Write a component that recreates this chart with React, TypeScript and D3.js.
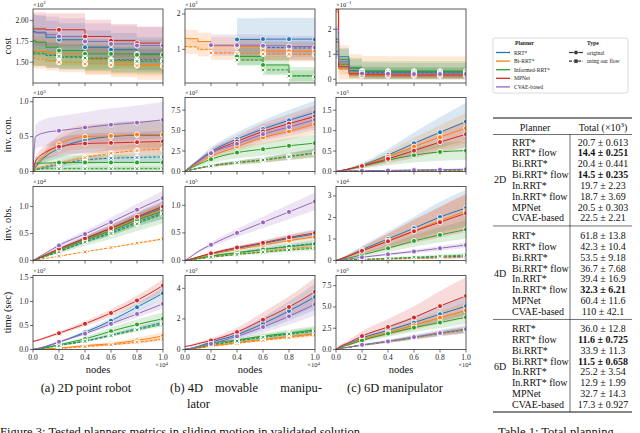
import React from "react";
import * as d3 from "d3";

// node counts (x 10^4) where every series is sampled
const NODES = [0, 0.02, 0.1, 0.2, 0.4, 0.6, 0.8, 1.0];
const MARK_NODES = [0.2, 0.4, 0.6, 0.8, 1.0];
const X_TICKS = [0, 0.2, 0.4, 0.6, 0.8, 1.0];

const PLANNERS = ["RRT*", "Bi-RRT*", "Informed-RRT*", "MPNet", "CVAE-based"];
const COLORS = ["#1f77b4", "#ff7f0e", "#2ca02c", "#d62728", "#9467bd"];
const METRICS = ["cost", "inv. con.", "inv. obs.", "time (sec)"];

const SERIES = [
  { key: "rrt", planner: 0, flow: false },
  { key: "rrtFlow", planner: 0, flow: true },
  { key: "bi", planner: 1, flow: false },
  { key: "biFlow", planner: 1, flow: true },
  { key: "inf", planner: 2, flow: false },
  { key: "infFlow", planner: 2, flow: true },
  { key: "mpnet", planner: 3, flow: false },
  { key: "cvae", planner: 4, flow: false },
];

const N = null;

// ---- cost
const COST_2D = {
  rrt: [1.87, 1.86, 1.8, 1.77, 1.68, 1.65, 1.6, 1.59],
  rrtFlow: [1.6, 1.6, 1.58, 1.56, 1.54, 1.53, 1.53, 1.52],
  bi: [1.64, 1.63, 1.61, 1.6, 1.53, 1.5, 1.47, 1.46],
  biFlow: [1.55, 1.54, 1.52, 1.5, 1.48, 1.47, 1.46, 1.45],
  inf: [1.76, 1.74, 1.68, 1.64, 1.6, 1.6, 1.59, 1.59],
  infFlow: [1.62, 1.61, 1.59, 1.57, 1.55, 1.52, 1.51, 1.51],
  mpnet: [1.9, 1.9, 1.89, 1.89, 1.81, 1.76, 1.73, 1.72],
  cvae: [1.86, 1.85, 1.83, 1.81, 1.75, 1.72, 1.7, 1.7],
};
const COST_2D_BAND = [0.2, 0.15, 0.18, 0.12, 0.18, 0.15, 0.2, 0.22];

const COST_4D = {
  rrt: [N, N, N, N, 1.28, 1.29, 1.29, 1.28],
  rrtFlow: [N, N, N, N, 1.08, 1.05, 1.04, 1.03],
  bi: [1.31, 1.3, 1.22, 1.1, 1.08, 0.95, 0.95, 0.93],
  biFlow: [1.08, 1.07, 1.0, 0.9, 0.88, 0.87, 0.86, 0.85],
  inf: [N, N, N, N, 0.8, 0.56, 0.25, 0.22],
  infFlow: [N, N, N, N, 0.7, 0.42, 0.25, 0.22],
  mpnet: [N, N, N, N, N, N, N, N],
  cvae: [N, N, N, 1.12, 1.12, 1.1, 1.08, 1.05],
};
const COST_4D_BAND = [0.6, 0.2, 0.25, 0.2, 0.25, 0.15, 0, 0.3];

const COST_6D = {
  rrt: [1.6, 0.9, 0.45, 0.32, 0.3, 0.3, 0.3, 0.3],
  rrtFlow: [1.0, 0.6, 0.35, 0.27, 0.26, 0.26, 0.25, 0.25],
  bi: [2.7, 0.6, 0.25, 0.18, 0.17, 0.16, 0.16, 0.16],
  biFlow: [1.5, 0.4, 0.2, 0.15, 0.14, 0.14, 0.14, 0.14],
  inf: [1.5, 0.8, 0.45, 0.33, 0.33, 0.33, 0.33, 0.33],
  infFlow: [1.1, 0.6, 0.35, 0.3, 0.29, 0.29, 0.29, 0.29],
  mpnet: [2.8, 0.5, 0.22, 0.18, 0.17, 0.17, 0.17, 0.17],
  cvae: [2.0, 0.7, 0.3, 0.23, 0.22, 0.21, 0.21, 0.21],
};
const COST_6D_BAND = [0.35, 0.2, 0.75, 0.2, 0.4, 0.2, 0.1, 0.15];

// ---- inverse connectivity
const CON_2D = {
  rrt: [0, 0.06, 0.22, 0.33, 0.45, 0.5, 0.52, 0.52],
  rrtFlow: [0, 0.02, 0.06, 0.1, 0.165, 0.19, 0.2, 0.21],
  bi: [0, 0.08, 0.25, 0.39, 0.5, 0.51, 0.53, 0.53],
  biFlow: [0, 0.03, 0.08, 0.12, 0.2, 0.26, 0.3, 0.32],
  inf: [0, 0.12, 0.12, 0.13, 0.13, 0.13, 0.13, 0.13],
  infFlow: [0, 0.03, 0.04, 0.04, 0.04, 0.04, 0.04, 0.04],
  mpnet: [0, 0.15, 0.28, 0.355, 0.4, 0.41, 0.42, 0.43],
  cvae: [0, 0.5, 0.56, 0.585, 0.63, 0.67, 0.7, 0.74],
};
const CON_2D_BAND = [0.4, 0.35, 0.35, 0.3, 0.8, 0.8, 0.35, 0.35];

const CON_4D = {
  rrt: [0, 0.3, 1.3, 2.44, 3.96, 5.19, 6.25, 7.23],
  rrtFlow: [0, 0.1, 0.4, 0.7, 1.1, 1.42, 1.85, 2.28],
  bi: [0, 0.2, 1.0, 1.82, 3.05, 4.16, 4.9, 5.8],
  biFlow: [0, 0.1, 0.38, 0.66, 1.06, 1.38, 1.8, 2.22],
  inf: [0, 0.2, 0.85, 1.5, 2.31, 2.73, 3.14, 3.47],
  infFlow: [0, 0.1, 0.38, 0.68, 1.08, 1.4, 1.82, 2.24],
  mpnet: [0, 0.3, 1.2, 2.3, 3.67, 4.9, 5.84, 6.74],
  cvae: [0, 0.3, 1.2, 2.24, 3.38, 4.57, 5.43, 6.33],
};
const CON_4D_BAND = [0.2, 0.2, 0.2, 0.2, 0.3, 0.25, 0.2, 0.2];

const CON_6D = {
  rrt: [0, 0.01, 0.06, 0.15, 0.4, 0.69, 0.96, 1.22],
  rrtFlow: [0, 0, 0.005, 0.01, 0.015, 0.02, 0.025, 0.03],
  bi: [0, 0.01, 0.06, 0.14, 0.36, 0.61, 0.84, 1.06],
  biFlow: [0, 0, 0.005, 0.01, 0.015, 0.02, 0.025, 0.03],
  inf: [0, 0.01, 0.06, 0.13, 0.28, 0.4, 0.48, 0.51],
  infFlow: [0, 0, 0.005, 0.01, 0.02, 0.03, 0.035, 0.04],
  mpnet: [0, 0.01, 0.06, 0.135, 0.31, 0.51, 0.72, 0.91],
  cvae: [0, 0.01, 0.015, 0.02, 0.025, 0.035, 0.045, 0.055],
};
const CON_6D_BAND = [0.38, 0.5, 0.35, 0.5, 0.45, 0.5, 0.35, 0.5];

// ---- inverse obstacle
const OBS_2D = {
  rrt: [0, 0.02, 0.1, 0.21, 0.4, 0.59, 0.79, 0.97],
  rrtFlow: [0, 0.015, 0.08, 0.17, 0.35, 0.52, 0.71, 0.88],
  bi: [0, 0.02, 0.1, 0.2, 0.38, 0.57, 0.77, 0.95],
  biFlow: [0, 0.008, 0.04, 0.08, 0.16, 0.24, 0.32, 0.4],
  inf: [0, 0.02, 0.09, 0.19, 0.38, 0.55, 0.75, 0.91],
  infFlow: [0, 0.015, 0.08, 0.16, 0.34, 0.5, 0.68, 0.86],
  mpnet: [0, 0.02, 0.11, 0.22, 0.41, 0.6, 0.81, 1.0],
  cvae: [0, 0.03, 0.14, 0.28, 0.49, 0.71, 0.94, 1.155],
};
const OBS_2D_BAND = [0.12, 0.12, 0.12, 0.05, 0.15, 0.2, 0.1, 0.12];

const OBS_4D = {
  rrt: [0, 0.01, 0.06, 0.12, 0.22, 0.31, 0.4, 0.48],
  rrtFlow: [0, 0.01, 0.04, 0.08, 0.14, 0.2, 0.26, 0.31],
  bi: [0, 0.01, 0.055, 0.11, 0.2, 0.28, 0.36, 0.43],
  biFlow: [0, 0.005, 0.03, 0.06, 0.11, 0.16, 0.21, 0.25],
  inf: [0, 0.005, 0.04, 0.08, 0.14, 0.2, 0.25, 0.3],
  infFlow: [0, 0.005, 0.03, 0.06, 0.11, 0.15, 0.19, 0.22],
  mpnet: [0, 0.01, 0.065, 0.13, 0.235, 0.32, 0.42, 0.5],
  cvae: [0, 0.03, 0.16, 0.285, 0.5, 0.69, 0.88, 1.07],
};
const OBS_4D_BAND = [0.15, 0.15, 0.15, 0.15, 0.25, 0.2, 0.12, 0.15];

const OBS_6D = {
  rrt: [0, 0.04, 0.23, 0.5, 1.0, 1.5, 2.02, 2.44],
  rrtFlow: [0, 0.005, 0.02, 0.04, 0.08, 0.12, 0.16, 0.2],
  bi: [0, 0.04, 0.21, 0.45, 0.92, 1.38, 1.85, 2.3],
  biFlow: [0, 0.003, 0.015, 0.03, 0.06, 0.09, 0.12, 0.15],
  inf: [0, 0.03, 0.12, 0.26, 0.57, 0.91, 1.19, 1.44],
  infFlow: [0, 0.005, 0.025, 0.05, 0.1, 0.15, 0.2, 0.25],
  mpnet: [0, 0.04, 0.21, 0.45, 0.89, 1.36, 1.78, 2.2],
  cvae: [0, 0.01, 0.07, 0.15, 0.29, 0.42, 0.57, 0.72],
};
const OBS_6D_BAND = [0.35, 0.4, 0.35, 0.4, 0.3, 0.4, 0.4, 0.2];

// ---- time
const TIME_2D = {
  rrt: [0, 0.01, 0.06, 0.15, 0.36, 0.6, 0.88, 1.17],
  rrtFlow: [0, 0.005, 0.04, 0.09, 0.18, 0.3, 0.43, 0.56],
  bi: [0, 0.002, 0.012, 0.03, 0.08, 0.12, 0.19, 0.28],
  biFlow: [0, 0.002, 0.01, 0.02, 0.06, 0.1, 0.15, 0.22],
  inf: [0, 0.005, 0.04, 0.1, 0.22, 0.38, 0.52, 0.64],
  infFlow: [0, 0.005, 0.035, 0.08, 0.17, 0.29, 0.41, 0.53],
  mpnet: [0.17, 0.18, 0.25, 0.34, 0.535, 0.76, 1.02, 1.33],
  cvae: [0, 0.01, 0.07, 0.16, 0.33, 0.535, 0.74, 0.95],
};
const TIME_2D_BAND = [0.1, 0.1, 0.3, 0.2, 0.2, 0.1, 0.1, 0.1];

const TIME_4D = {
  rrt: [0, 0.03, 0.2, 0.48, 0.97, 1.69, 2.52, 3.44],
  rrtFlow: [0, 0.02, 0.13, 0.3, 0.56, 0.8, 1.0, 1.22],
  bi: [0, 0.02, 0.1, 0.23, 0.45, 0.66, 0.84, 1.03],
  biFlow: [0, 0.02, 0.09, 0.2, 0.4, 0.6, 0.78, 0.95],
  inf: [0, 0.03, 0.18, 0.4, 0.62, 0.88, 1.07, 1.29],
  infFlow: [0, 0.02, 0.13, 0.3, 0.55, 0.8, 1.02, 1.2],
  mpnet: [0.2, 0.22, 0.38, 0.59, 1.14, 1.95, 2.78, 3.77],
  cvae: [0, 0.03, 0.16, 0.37, 0.86, 1.47, 2.17, 2.96],
};
const TIME_4D_BAND = [0.25, 0.15, 0.1, 0.1, 0.2, 0.2, 0.25, 0.25];

const TIME_6D = {
  rrt: [0, 0.2, 0.7, 1.35, 2.25, 3.17, 4.15, 5.1],
  rrtFlow: [0, 0.08, 0.28, 0.5, 0.95, 1.4, 1.9, 2.3],
  bi: [0, 0.18, 0.62, 1.2, 2.0, 2.85, 3.75, 4.6],
  biFlow: [0, 0.08, 0.27, 0.48, 0.92, 1.38, 1.85, 2.25],
  inf: [0, 0.16, 0.56, 1.07, 1.87, 2.57, 3.17, 3.8],
  infFlow: [0, 0.08, 0.28, 0.5, 0.96, 1.42, 1.92, 2.35],
  mpnet: [0, 0.25, 0.82, 1.58, 2.65, 3.76, 5.1, 6.3],
  cvae: [0, 0.08, 0.28, 0.55, 0.95, 1.46, 1.94, 2.4],
};
const TIME_6D_BAND = [0.22, 0.15, 0.2, 0.15, 0.2, 0.15, 0.35, 0.2];

const PANELS = [
  { row: 0, col: 0, data: COST_2D, band: COST_2D_BAND, abs: true, domain: [1.25, 2.14], ticks: [1.5, 1.75, 2.0], fmt: ".2f", exp: "2" },
  { row: 0, col: 1, data: COST_4D, band: COST_4D_BAND, abs: true, domain: [0.05, 2.14], ticks: [1, 2], fmt: "d", exp: "2" },
  { row: 0, col: 2, data: COST_6D, band: COST_6D_BAND, abs: true, domain: [-0.15, 2.81], ticks: [0, 1, 2], fmt: "d", exp: "−1" },
  { row: 1, col: 0, data: CON_2D, band: CON_2D_BAND, abs: false, domain: [0, 1.06], ticks: [0, 0.5, 1.0], fmt: ".1f", exp: "3" },
  { row: 1, col: 1, data: CON_4D, band: CON_4D_BAND, abs: false, domain: [0, 9.04], ticks: [0, 2.5, 5, 7.5], fmt: ".1f", exp: "2" },
  { row: 1, col: 2, data: CON_6D, band: CON_6D_BAND, abs: false, domain: [0, 1.81], ticks: [0, 0.5, 1.0, 1.5], fmt: ".1f", exp: "3" },
  { row: 2, col: 0, data: OBS_2D, band: OBS_2D_BAND, abs: false, domain: [0, 1.37], ticks: [0, 0.5, 1.0], fmt: ".1f", exp: "4" },
  { row: 2, col: 1, data: OBS_4D, band: OBS_4D_BAND, abs: false, domain: [0, 1.34], ticks: [0, 0.5, 1.0], fmt: ".1f", exp: "5" },
  { row: 2, col: 2, data: OBS_6D, band: OBS_6D_BAND, abs: false, domain: [0, 3.44], ticks: [0, 1, 2, 3], fmt: "d", exp: "4" },
  { row: 3, col: 0, data: TIME_2D, band: TIME_2D_BAND, abs: false, domain: [0, 1.54], ticks: [0, 0.5, 1.0, 1.5], fmt: ".1f", exp: "2" },
  { row: 3, col: 1, data: TIME_4D, band: TIME_4D_BAND, abs: false, domain: [0, 4.84], ticks: [0, 2, 4], fmt: "d", exp: "2" },
  { row: 3, col: 2, data: TIME_6D, band: TIME_6D_BAND, abs: false, domain: [0, 8.7], ticks: [0, 2.5, 5, 7.5], fmt: ".1f", exp: "2" },
];

// table
const DIMS = ["2D", "4D", "6D"];
const TABLE_PLANNERS = ["RRT*", "RRT* flow", "Bi.RRT*", "Bi.RRT* flow", "In.RRT*", "In.RRT* flow", "MPNet", "CVAE-based"];
const TOTAL_MEAN = [
  ["20.7", "14.4", "20.4", "14.5", "19.7", "18.7", "20.5", "22.5"],
  ["61.8", "42.3", "53.5", "36.7", "39.4", "32.3", "60.4", "110"],
  ["36.0", "11.6", "33.9", "11.5", "25.2", "12.9", "32.7", "17.3"],
];
const TOTAL_STD = [
  ["0.613", "0.251", "0.441", "0.235", "2.23", "3.69", "0.303", "2.21"],
  ["13.8", "10.4", "9.18", "7.68", "16.9", "6.21", "11.6", "42.1"],
  ["12.8", "0.725", "11.3", "0.658", "3.54", "1.99", "14.3", "0.927"],
];
const TOTAL_BOLD = [
  [false, true, false, true, false, false, false, false],
  [false, false, false, false, false, true, false, false],
  [false, true, false, true, false, false, false, false],
];

const CAPTION_A = "(a) 2D point robot";
const CAPTION_B = ["(b) 4D", "movable", "manipu-", "lator"];
const CAPTION_C = "(c) 6D manipulator";

const COL_X = [33, 185, 336];
const ROW_Y = [9, 97.5, 186.5, 275.5];
const PW = 130;
const PH = 74;
const SERIF = "'Liberation Serif', 'DejaVu Serif', serif";

const Panel = ({ p, idx }) => {
  const x0 = COL_X[p.col];
  const y0 = ROW_Y[p.row];
  const x = d3.scaleLinear().domain([0, 1]).range([x0, x0 + PW]);
  const y = d3.scaleLinear().domain(p.domain).range([y0 + PH, y0]);
  const isCost = p.row === 0;
  const curve = isCost ? d3.curveStepAfter : d3.curveMonotoneX;
  const fmt = d3.format(p.fmt);
  const clipId = `clip${idx}`;

  const pts = (vals) => NODES.map((n, i) => ({ n, v: vals[i] }));
  const line = d3
    .line<any>()
    .defined((d) => d.v != null)
    .x((d) => x(d.n))
    .y((d) => y(d.v))
    .curve(curve);

  return (
    <g>
      <defs>
        <clipPath id={clipId}>
          <rect x={x0} y={y0} width={PW} height={PH} />
        </clipPath>
      </defs>
      <g clipPath={`url(#${clipId})`}>
        {SERIES.map((s, si) => {
          const hw = p.band[si];
          const area = d3
            .area<any>()
            .defined((d) => d.v != null)
            .x((d) => x(d.n))
            .y0((d) => y(Math.max(0, d.v - (p.abs ? hw : d.v * hw))))
            .y1((d) => y(d.v + (p.abs ? hw : d.v * hw)))
            .curve(curve);
          return (
            <path key={"b" + s.key} d={area(pts(p.data[s.key])) || ""} fill={COLORS[s.planner]} fillOpacity={0.17} />
          );
        })}
        {SERIES.map((s) => (
          <path
            key={"l" + s.key}
            d={line(pts(p.data[s.key])) || ""}
            fill="none"
            stroke={COLORS[s.planner]}
            strokeWidth={1}
            strokeDasharray={s.flow ? "3,1.5" : undefined}
          />
        ))}
        {SERIES.map((s) =>
          MARK_NODES.map((n) => {
            const v = p.data[s.key][NODES.indexOf(n)];
            if (v == null) return null;
            const cx = x(n);
            const cy = y(v);
            const c = COLORS[s.planner];
            return s.flow ? (
              <g key={s.key + n}>
                <circle cx={cx} cy={cy} r={2.7} fill="#fff" stroke="#fff" strokeWidth={0.6} />
                <path
                  d={`M${cx - 1.4},${cy - 1.4}L${cx + 1.4},${cy + 1.4}M${cx - 1.4},${cy + 1.4}L${cx + 1.4},${cy - 1.4}`}
                  stroke={c}
                  strokeWidth={1}
                />
              </g>
            ) : (
              <circle key={s.key + n} cx={cx} cy={cy} r={2.5} fill={c} stroke="#fff" strokeWidth={0.9} />
            );
          })
        )}
      </g>
      <rect x={x0} y={y0} width={PW} height={PH} fill="none" stroke="#333" strokeWidth={0.8} />
      {p.ticks.map((t) => (
        <g key={"yt" + t}>
          <line x1={x0 - 3} x2={x0} y1={y(t)} y2={y(t)} stroke="#333" strokeWidth={0.7} />
          <text x={x0 - 4.5} y={y(t) + 2.5} fontSize={7.5} textAnchor="end" fill="#222" fontFamily={SERIF}>
            {fmt(t)}
          </text>
        </g>
      ))}
      {X_TICKS.map((t) => (
        <g key={"xt" + t}>
          <line x1={x(t)} x2={x(t)} y1={y0 + PH} y2={y0 + PH + 3} stroke="#333" strokeWidth={0.7} />
          {p.row === 3 && (
            <text x={x(t)} y={y0 + PH + 10.5} fontSize={7.5} textAnchor="middle" fill="#222" fontFamily={SERIF}>
              {d3.format(".1f")(t)}
            </text>
          )}
        </g>
      ))}
      <text x={x0} y={y0 - 2.5} fontSize={6.5} fill="#222" fontFamily={SERIF}>
        ×10
        <tspan dy={-2.5} fontSize={5}>
          {p.exp}
        </tspan>
      </text>
      {p.row === 3 && (
        <>
          <text x={x0 + PW + 5} y={y0 + PH + 17.5} fontSize={6.5} textAnchor="end" fill="#222" fontFamily={SERIF}>
            ×10
            <tspan dy={-2.5} fontSize={5}>
              4
            </tspan>
          </text>
          <text x={x0 + PW / 2} y={y0 + PH + 23} fontSize={10.5} textAnchor="middle" fill="#111" fontFamily={SERIF}>
            nodes
          </text>
        </>
      )}
      {p.col === 0 && (
        <text
          transform={`translate(${10.5},${y0 + PH / 2}) rotate(-90)`}
          fontSize={10.5}
          textAnchor="middle"
          fill="#111"
          fontFamily={SERIF}
        >
          {METRICS[p.row]}
        </text>
      )}
    </g>
  );
};

const Legend = () => {
  const lx = 493;
  const ly = 38;
  return (
    <g fontFamily={SERIF} fontSize={5.6} fill="#222">
      <rect x={lx} y={ly} width={135} height={55} rx={2} fill="#fff" stroke="#ccc" strokeWidth={0.7} />
      <text x={lx + 22} y={ly + 7} fontWeight="bold">Planner</text>
      {PLANNERS.map((name, i) => {
        const yy = ly + 14.5 + i * 8.6;
        return (
          <g key={name}>
            <line x1={lx + 3} x2={lx + 17} y1={yy} y2={yy} stroke={COLORS[i]} strokeWidth={1.3} />
            <text x={lx + 21} y={yy + 2}>{name}</text>
          </g>
        );
      })}
      <text x={lx + 94} y={ly + 7} fontWeight="bold">Type</text>
      <line x1={lx + 76} x2={lx + 90} y1={ly + 14.5} y2={ly + 14.5} stroke="#333" strokeWidth={1.2} />
      <circle cx={lx + 83} cy={ly + 14.5} r={2.2} fill="#333" stroke="#fff" strokeWidth={0.6} />
      <text x={lx + 94} y={ly + 16.5}>original</text>
      <line x1={lx + 76} x2={lx + 90} y1={ly + 23.1} y2={ly + 23.1} stroke="#333" strokeWidth={1.2} strokeDasharray="3,1.5" />
      <rect x={lx + 81} y={ly + 21.1} width={4} height={4} fill="#333" stroke="#fff" strokeWidth={0.5} />
      <text x={lx + 94} y={ly + 25.1}>using our flow</text>
    </g>
  );
};

const Table = () => {
  const left = 493;
  const right = 632;
  const vx = 570;
  const rowH = 10.85;
  const groupStarts = [142, 235.5, 328.5];
  return (
    <g fontFamily={SERIF} fontSize={10} fill="#111">
      <line x1={left} x2={right} y1={118} y2={118} stroke="#111" strokeWidth={1} />
      <text x={535} y={130.5} textAnchor="middle">Planner</text>
      <text x={603} y={130.5} textAnchor="middle">
        Total (×10
        <tspan dy={-3.5} fontSize={7}>3</tspan>
        <tspan dy={3.5}>)</tspan>
      </text>
      <line x1={left} x2={right} y1={134.5} y2={134.5} stroke="#111" strokeWidth={0.6} />
      <line x1={vx} x2={vx} y1={134.5} y2={412} stroke="#111" strokeWidth={0.6} />
      {DIMS.map((dim, g) => {
        const gy = groupStarts[g];
        return (
          <g key={dim}>
            <text x={494} y={gy + 3.5 * rowH + 3.5}>{dim}</text>
            {TABLE_PLANNERS.map((name, i) => {
              const yy = gy + i * rowH + 3.5;
              const bold = TOTAL_BOLD[g][i];
              return (
                <g key={name}>
                  <text x={512} y={yy}>{name}</text>
                  <text x={603} y={yy} textAnchor="middle" fontWeight={bold ? "bold" : "normal"}>
                    {TOTAL_MEAN[g][i]} ± {TOTAL_STD[g][i]}
                  </text>
                </g>
              );
            })}
            {g < 2 && (
              <line x1={left} x2={right} y1={gy + 7 * rowH + 8} y2={gy + 7 * rowH + 8} stroke="#111" strokeWidth={0.6} />
            )}
          </g>
        );
      })}
      <line x1={left} x2={right} y1={412} y2={412} stroke="#111" strokeWidth={1} />
    </g>
  );
};

export default function App() {
  return (
    <svg
      width={640}
      height={433}
      viewBox="0 0 640 433"
      style={{ position: "absolute", left: 0, top: 0, background: "#fff" }}
    >
      <rect x={0} y={0} width={640} height={433} fill="#fff" />
      {PANELS.map((p, i) => (
        <Panel key={i} p={p} idx={i} />
      ))}
      <Legend />
      <Table />
      <g fontFamily={SERIF} fontSize={12.5} fill="#111">
        <text x={86} y={392} textAnchor="middle">{CAPTION_A}</text>
        <text x={170} y={392}>{CAPTION_B[0]}</text>
        <text x={215} y={392}>{CAPTION_B[1]}</text>
        <text x={322} y={392} textAnchor="end">{CAPTION_B[2]}</text>
        <text x={187} y={408}>{CAPTION_B[3]}</text>
        <text x={395} y={392} textAnchor="middle">{CAPTION_C}</text>
        <text x={0} y={436}>Figure 3: Tested planners metrics in sliding motion in validated solution</text>
        <text x={498} y={436}>Table 1: Total planning</text>
      </g>
    </svg>
  );
}
